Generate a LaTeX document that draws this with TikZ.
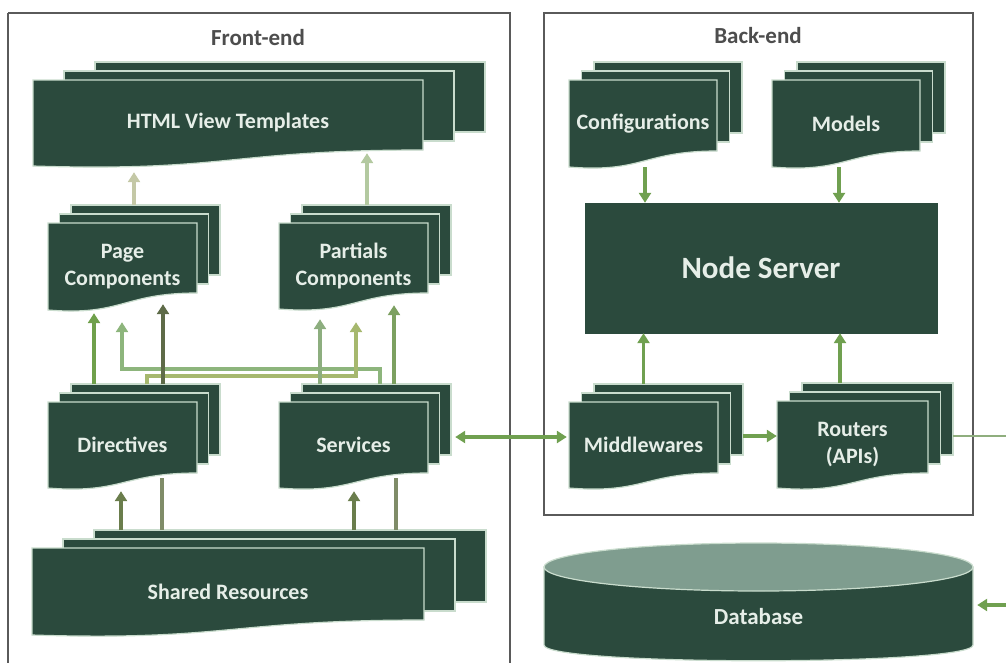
\documentclass[tikz,border=0pt]{standalone}
\usepackage{fontspec}
\setmainfont{Carlito}
\usetikzlibrary{arrows.meta,calc}

\definecolor{docfill}{HTML}{2B4A3D}
\definecolor{docedge}{HTML}{C9DCCD}
\definecolor{doctxt}{HTML}{E6EEE8}
\definecolor{frame}{HTML}{5A5A5A}
\definecolor{titletxt}{HTML}{4D4D4D}
\definecolor{dbtopfill}{HTML}{7F9D8F}
\definecolor{mainarrow}{HTML}{70A050}
\definecolor{paleA}{HTML}{C4C8A6}
\definecolor{paleB}{HTML}{B3C9A0}
\definecolor{gA}{HTML}{6FA04B}
\definecolor{gB}{HTML}{8DB57C}
\definecolor{gC}{HTML}{5E6B48}
\definecolor{gD}{HTML}{8DAE7F}
\definecolor{gE}{HTML}{A6B86E}
\definecolor{gF}{HTML}{7CA060}
\definecolor{oA}{HTML}{6A7D4C}
\definecolor{oB}{HTML}{7F8C68}
\definecolor{exitline}{HTML}{8FAE7E}

\tikzset{
  layer/.style={fill=docfill, draw=docedge, line width=1.2pt},
  doctext/.style={inner sep=0pt, align=center, text=doctxt,
    font=\fontsize{22}{27}\selectfont\bfseries},
  title/.style={text=titletxt, font=\fontsize{23}{28}\selectfont\bfseries},
  region/.style={draw=frame, line width=1.5pt},
  flow/.style={line width=3.2pt, -{Triangle[width=12pt,length=10pt]}},
  biflow/.style={line width=3.2pt, {Triangle[width=12pt,length=10pt]}-{Triangle[width=12pt,length=10pt]}},
  link/.style={line width=3.2pt},
}

% stacked documents: name, left, right, top, bottom-left, bottom-right, layer shift, label
\newcommand\mdoc[8]{%
  \pgfmathsetmacro\mdw{#3-#2}%
  \pgfmathsetmacro\mdh{#5-#4}%
  \path[layer] ({#2+2*#7},{#4-18}) rectangle ({#3+2*#7},{#6-18});
  \path[layer] ({#2+#7},{#4-9}) rectangle ({#3+#7},{#6-9});
  \path[layer] (#2,#4) -- (#2,#5)
    .. controls ({#2+0.5*\mdw},{#5+0.07*\mdh}) and ({#2+0.5*\mdw},#6) .. (#3,#6)
    -- (#3,#4) -- cycle;
  \node[doctext, minimum width=\mdw pt, minimum height=\mdh pt] (#1)
    at ({(#2+#3)/2},{(#4+#5)/2}) {#8};
  \coordinate (#1-top) at ({(#2+#3)/2+2*#7},{#4-18});
}

\begin{document}
\begin{tikzpicture}[x=1pt,y=-1pt]
\useasboundingbox (0,0) rectangle (1006,662);

% regions
\draw[region] (8,13) -- (8,700) (8,13) -- (510,13) -- (510,700);
\node[title] (fe) at (258,38) {Front-end};
\draw[region] (544,13) rectangle (973,515);
\node[title] (be) at (758,36) {Back-end};

% front-end documents
\mdoc{html}{33}{423}{80}{166}{150}{31}{HTML View Templates}
\mdoc{shared}{32}{424}{548}{635}{620}{31}{Shared Resources}
\mdoc{page}{48}{197}{223}{310}{293}{11.5}{Page\\Components}
\mdoc{part}{279}{428}{223}{309}{293}{11.5}{Partials\\Components}
\mdoc{dir}{48}{197}{402}{488}{473}{11.5}{Directives}
\mdoc{serv}{279}{428}{402}{488}{473}{11.5}{Services}

% back-end documents
\mdoc{conf}{569}{717}{80}{167}{151}{12.5}{Configurations}
\mdoc{models}{772}{920}{80}{167}{151}{12.5}{Models}
\mdoc{mid}{569}{718}{402}{488}{473}{12.5}{Middlewares}
\mdoc{rout}{777}{928}{401}{488}{473}{12.5}{Routers\\(APIs)}

% server
\node[fill=docfill, draw=docfill, minimum width=352pt, minimum height=130pt,
      text=doctxt, font=\fontsize{31}{36}\selectfont\bfseries] (srv) at (761,268) {Node Server};

% database cylinder
\path[layer] (544,567) -- (544,645) .. controls (544,666) and (973,666) .. (973,645) -- (973,567) -- cycle;
\path[fill=dbtopfill, draw=docedge, line width=1.2pt] (758.5,567) ellipse [x radius=214.5pt, y radius=24pt];
\node[minimum width=429pt, minimum height=76pt] (db) at (758.5,605) {};
\node[text=doctxt, font=\fontsize{23}{28}\selectfont\bfseries] (dbtext) at (758.5,617) {Database};

% off-page ends
\coordinate (offA) at (1012,436);
\coordinate (offB) at (1012,605);

% components -> views
\draw[flow, paleA] (page-top -| 134,0) -- ($(html.south -| 134,0)+(0,6)$);
\draw[flow, paleB] (part-top -| 367,0) -- ($(html.south -| 367,0)+(0,-13)$);

% directives / services -> components
\draw[flow, gB] (serv-top -| 380,0) -- ++(0,-15) -| ($(page.south -| 122,0)+(0,12)$);
\draw[flow, gE] (dir-top -| 147,0) -- ++(0,-8) -| ($(part.south -| 356,0)+(0,13)$);
\draw[flow, gA] (dir-top -| 94,0) -- ($(page.south -| 94,0)+(0,3)$);
\draw[flow, gC] (dir-top -| 163,0) -- ($(page.south -| 163,0)+(0,-6)$);
\draw[flow, gD] (serv-top -| 320,0) -- ($(part.south -| 320,0)+(0,10)$);
\draw[flow, gF] (serv-top -| 394,0) -- ($(part.south -| 394,0)+(0,-4)$);

% shared resources <-> directives / services
\draw[flow, oA] (shared-top -| 121,0) -- ($(dir.south -| 121,0)+(0,3)$);
\draw[link, oB] ($(dir.south -| 162,0)+(0,-10)$) -- (shared-top -| 162,0);
\draw[flow, oA] (shared-top -| 354,0) -- ($(serv.south -| 354,0)+(0,3)$);
\draw[link, oB] ($(serv.south -| 396,0)+(0,-10)$) -- (shared-top -| 396,0);

% front-end <-> back-end
\draw[biflow, mainarrow] ($(serv.east)+(27,-8)$) -- ($(mid.west)+(-2,-8)$);

% back-end flows
\draw[flow, mainarrow] ($(mid.east)+(25,-9)$) -- ($(rout.west)+(0,-8.5)$);
\draw[flow, mainarrow] (mid-top -| mid.north) -- (srv.south -| mid.north);
\draw[flow, mainarrow] (rout-top -| 840,0) -- (srv.south -| 840,0);
\draw[flow, mainarrow] (conf.south -| 645,0) -- (srv.north -| 645,0);
\draw[flow, mainarrow] (models.south -| 839,0) -- (srv.north -| 839,0);

% routers out, database in
\draw[exitline, line width=2.2pt] ($(rout.east)+(25,-8.5)$) -- (offA);
\draw[flow, mainarrow] (offB) -- ($(db.east)+(4,0)$);
\end{tikzpicture}
\end{document}
